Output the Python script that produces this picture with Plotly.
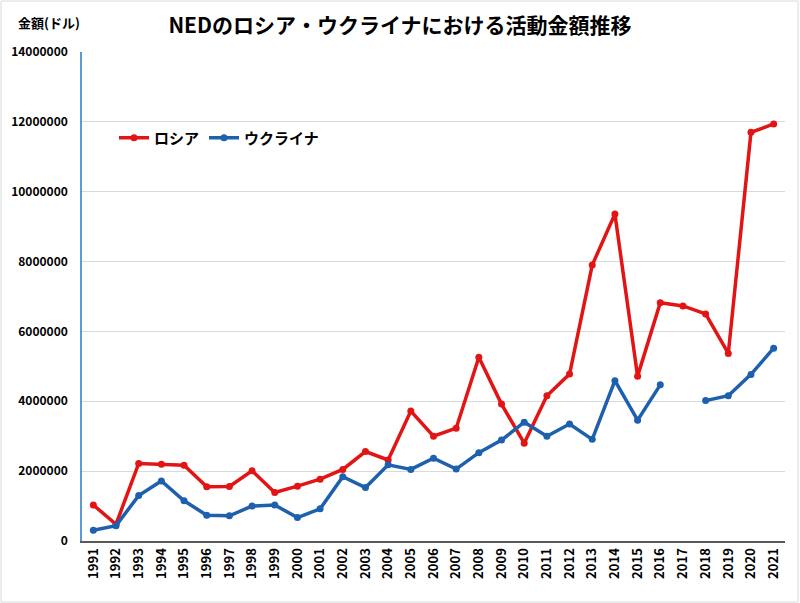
import plotly.graph_objects as go

years = [str(y) for y in range(1991, 2022)]
russia = [1030000, 480000, 2220000, 2200000, 2170000, 1550000, 1560000, 2010000, 1390000, 1570000,
          1770000, 2050000, 2560000, 2320000, 3720000, 3000000, 3230000, 5260000, 3920000, 2800000,
          4160000, 4780000, 7900000, 9360000, 4720000, 6820000, 6730000, 6500000, 5370000, 11700000,
          11940000]
ukraine = [310000, 440000, 1300000, 1720000, 1150000, 740000, 720000, 1000000, 1030000, 670000,
           920000, 1840000, 1530000, 2180000, 2050000, 2370000, 2060000, 2530000, 2890000, 3400000,
           3000000, 3350000, 2910000, 4590000, 3460000, 4470000, None, 4020000, 4160000, 4770000,
           5520000]

RED = "#E31414"
BLUE = "#1C60AE"
FONT = "Noto Sans CJK JP"

fig = go.Figure()
fig.add_trace(go.Scatter(x=years, y=russia, name="ロシア", mode="lines+markers",
                         line=dict(color=RED, width=3.5), marker=dict(size=7, color=RED)))
fig.add_trace(go.Scatter(x=years, y=ukraine, name="ウクライナ", mode="lines+markers",
                         line=dict(color=BLUE, width=3.5), marker=dict(size=7, color=BLUE),
                         connectgaps=False))

L, R, T, B = 82, 15, 52, 62
W, H = 800, 603
pw, ph = W - L - R, H - T - B

fig.update_layout(
    width=W, height=H,
    margin=dict(l=L, r=R, t=T, b=B, autoexpand=False),
    paper_bgcolor="white", plot_bgcolor="white",
    font=dict(family=FONT, color="#000000", size=12),
    title=dict(text="<b>NEDのロシア・ウクライナにおける活動金額推移</b>",
               x=0.5, xanchor="center", y=1 - 26 / H, yanchor="middle",
               font=dict(size=21, family=FONT, color="#000000")),
    showlegend=True,
    legend=dict(orientation="h", x=(114 - L) / pw, y=(541 - 138) / ph, xanchor="left", yanchor="middle",
                font=dict(size=15, family=FONT, color="#000000", weight="bold"),
                bgcolor="rgba(0,0,0,0)", itemwidth=30, tracegroupgap=0),
    xaxis=dict(type="category", range=[-0.5, len(years) - 0.5], tickangle=-90, showgrid=False,
               automargin=False, showline=True, linecolor="#595959", linewidth=2,
               ticks="", tickfont=dict(size=13, family=FONT, color="#000000", weight="bold"),
               fixedrange=True),
    yaxis=dict(range=[0, 14000000], dtick=2000000, tickformat="d", automargin=False,
               showgrid=True, gridcolor="#D9D9D9", gridwidth=1,
               showline=True, linecolor="#5B9BD5", linewidth=1.5,
               zeroline=False, ticks="", ticklabelstandoff=10,
               tickfont=dict(size=12, family=FONT, color="#000000", weight="bold")),
)

fig.add_annotation(text="<b>金額(ドル)</b>", xref="paper", yref="paper",
                   x=(16 - L) / pw, y=(541 - 23) / ph, xanchor="left", yanchor="middle",
                   showarrow=False, font=dict(size=13, family=FONT, color="#000000"))

fig.add_shape(type="rect", xref="paper", yref="paper",
              x0=(1 - L) / pw, x1=(W - 2 - L) / pw, y0=-(B - 1) / ph, y1=1 + (T - 1) / ph,
              line=dict(color="#D9D9D9", width=1), layer="below")

for t in fig.data:
    t.update(hovertemplate="%{x}: %{y}<extra>%{fullData.name}</extra>")

fig.write_html("out.html", config={"displayModeBar": False},
               post_script="document.body.style.margin='0';document.body.style.padding='0';")
